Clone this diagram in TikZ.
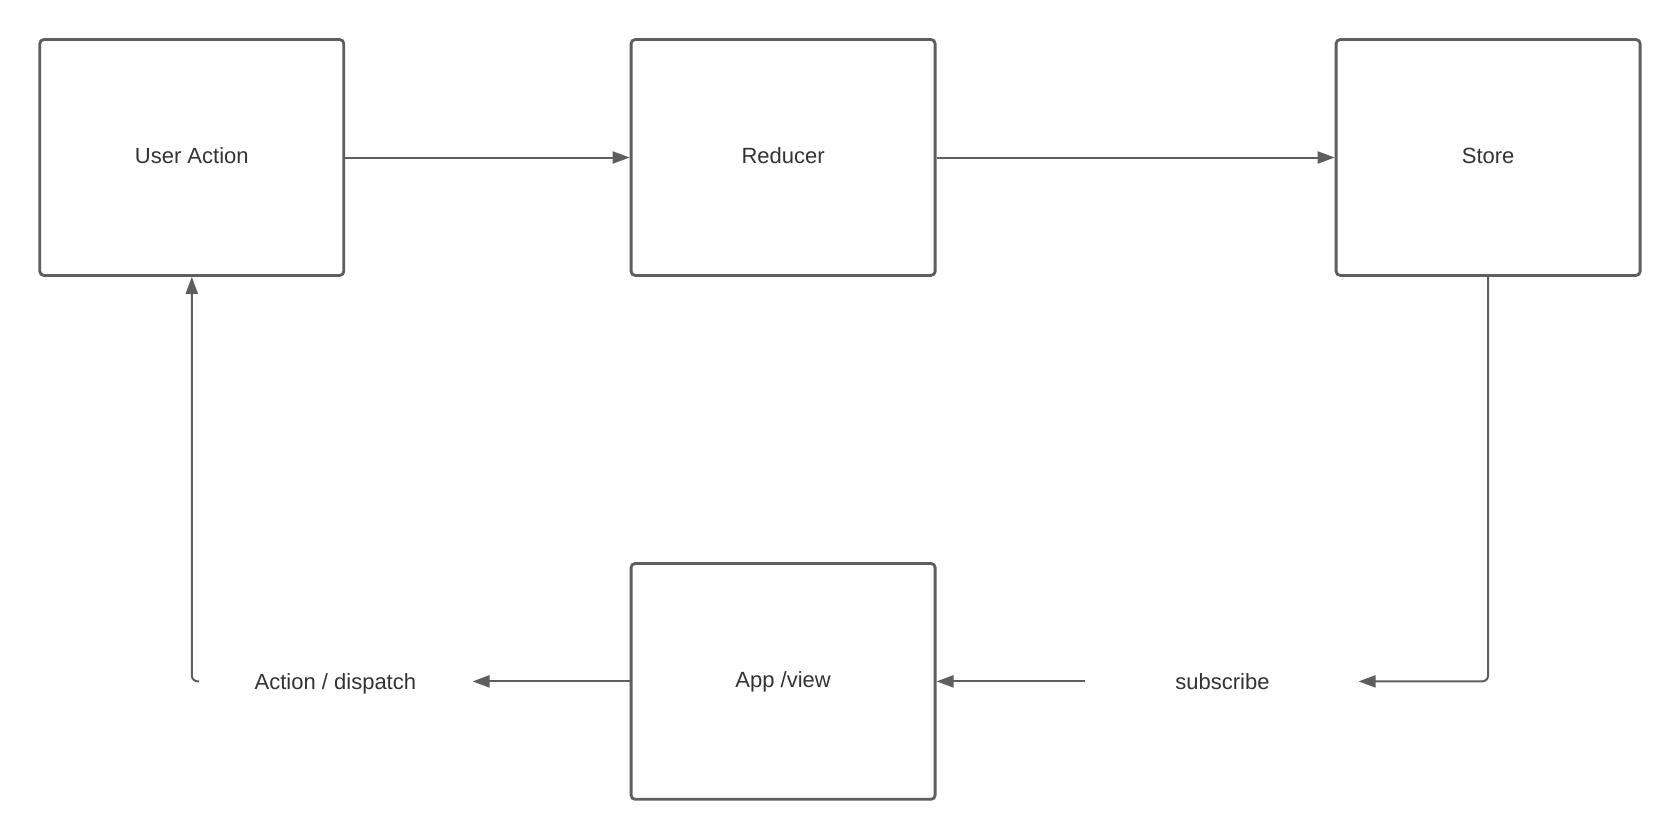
\documentclass[tikz,border=0pt]{standalone}
\usepackage{fontspec}
\setmainfont{Liberation Sans}
\usetikzlibrary{arrows.meta}
\definecolor{linec}{HTML}{5E5E5E}
\definecolor{textc}{HTML}{333333}
\begin{document}
\begin{tikzpicture}[x=1pt,y=-1pt,
  box/.style={draw=linec,line width=2.8pt,rounded corners=4pt,minimum width=304pt,minimum height=235.8pt,inner sep=0pt,text=textc,font=\fontsize{22}{25}\selectfont,text depth=3pt},
  lbl/.style={text=textc,font=\fontsize{22}{25}\selectfont,inner sep=0pt},
  conn/.style={draw=linec,line width=2pt,-{Triangle[length=17pt,width=12pt]}}]
\useasboundingbox[fill=white] (0,0) rectangle (1680,840);
\node[box] (ua) at (191.8,157.5) {User Action};
\node[box] (red) at (783.1,157.5) {Reducer};
\node[box] (st) at (1488.1,157.5) {Store};
\node[box] (app) at (783.1,681.4) {App /view};
\node[lbl] (ad) at (335.4,683.4) {Action / dispatch};
\node[lbl] (sub) at (1222.5,681.4) {subscribe};
\coordinate (adtip) at (472.5,681.4);
\coordinate (adstart) at (199,681.4);
\coordinate (subtip) at (1358.5,681.4);
\coordinate (substart) at (1085,681.4);
\draw[conn] (ua.east) -- (red.west);
\draw[conn] (red.east) -- (st.west);
\draw[conn,rounded corners=6pt] (st.south) |- (subtip);
\draw[conn] (substart) -- (substart -| app.east);
\draw[conn] (app.west) -- (app.west -| adtip);
\draw[conn,rounded corners=6pt] (adstart) -| (ua.south);
\end{tikzpicture}
\end{document}
